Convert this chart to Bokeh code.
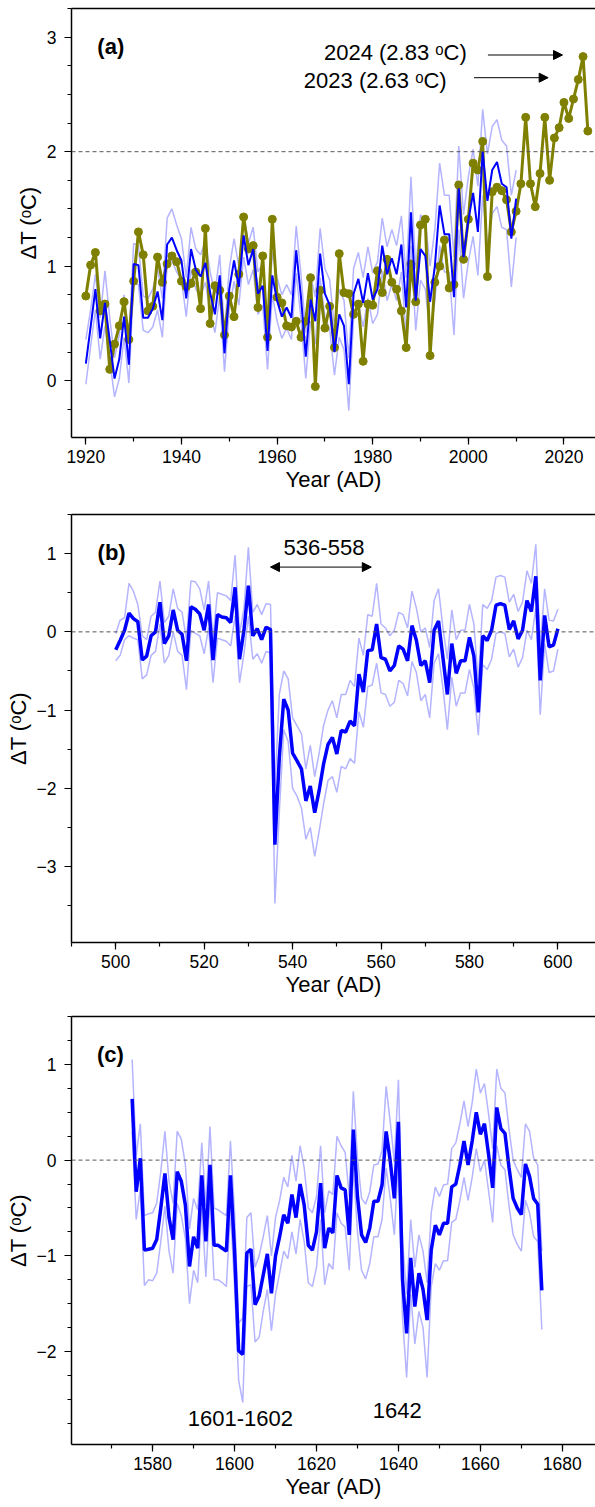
from bokeh.plotting import figure
from bokeh.layouts import column
from bokeh.models import (Label, Arrow, NormalHead, Span, SingleIntervalTicker,
                          LinearAxis, FixedTicker, Range1d)
from bokeh.embed import file_html
from bokeh.resources import INLINE

FONT = "Liberation Sans"

# ---------------- Panel (a) data ----------------
years_a_blue = list(range(1920, 2011))
recon_a = [0.15, 0.47, 0.80, 0.37, 0.68, 0.35, 0.02, 0.19, 0.56, 0.14,
           1.02, 1.01, 0.55, 0.55, 0.63, 0.78, 0.53, 1.19, 1.25, 1.14,
           1.05, 0.72, 1.15, 0.97, 0.91, 1.03, 0.77, 0.58, 0.92, 0.24,
           0.80, 1.05, 0.82, 1.27, 1.01, 1.15, 0.76, 0.83, 0.26, 0.92,
           0.70, 0.56, 0.64, 0.55, 1.14, 0.73, 0.21, 0.71, 0.52, 1.11,
           0.76, 0.66, 0.25, 0.58, 0.48, -0.03, 0.76, 0.89, 0.68, 0.94,
           0.71, 0.80, 1.18, 0.93, 1.07, 0.93, 1.19, 0.64, 1.47, 0.70,
           1.15, 1.09, 0.69, 1.00, 1.53, 1.28, 1.28, 0.73, 1.68, 1.08,
           1.40, 1.64, 1.30, 2.00, 1.57, 1.84, 1.91, 1.72, 1.69, 1.24,
           1.59]
recon_a_upper = [0.36, 0.62, 0.93, 0.55, 0.96, 0.55, 0.20, 0.40, 0.75, 0.35,
                 1.20, 1.18, 0.74, 0.72, 0.80, 0.98, 0.72, 1.42, 1.50, 1.36,
                 1.24, 0.90, 1.34, 1.15, 1.10, 1.22, 0.95, 0.76, 1.10, 0.42,
                 0.98, 1.24, 1.00, 1.46, 1.20, 1.34, 0.95, 1.02, 0.46, 1.12,
                 0.90, 0.75, 0.84, 0.75, 1.35, 0.93, 0.42, 0.92, 0.73, 1.33,
                 0.98, 0.88, 0.47, 0.80, 0.70, 0.20, 0.98, 1.12, 0.90, 1.17,
                 0.94, 1.04, 1.42, 1.17, 1.32, 1.18, 1.44, 0.90, 1.78, 0.98,
                 1.45, 1.40, 1.00, 1.32, 1.90, 1.62, 1.62, 1.08, 2.05, 1.45,
                 1.78, 2.02, 1.70, 2.37, 1.98, 2.22, 2.28, 2.10, 2.05, 1.62,
                 1.84]
recon_a_lower = [-0.03, 0.30, 0.62, 0.19, 0.48, 0.18, -0.14, 0.02, 0.38, -0.02,
                 0.85, 0.84, 0.44, 0.42, 0.47, 0.62, 0.38, 1.00, 1.05, 0.95,
                 0.88, 0.56, 0.97, 0.80, 0.74, 0.86, 0.60, 0.42, 0.74, 0.08,
                 0.62, 0.87, 0.66, 1.08, 0.84, 0.97, 0.58, 0.66, 0.10, 0.75,
                 0.52, 0.37, 0.46, 0.36, 0.94, 0.54, 0.02, 0.52, 0.32, 0.90,
                 0.56, 0.45, 0.05, 0.38, 0.27, -0.26, 0.55, 0.68, 0.47, 0.72,
                 0.50, 0.58, 0.96, 0.70, 0.84, 0.70, 0.95, 0.40, 1.18, 0.44,
                 0.88, 0.80, 0.40, 0.70, 1.18, 0.95, 0.95, 0.40, 1.32, 0.72,
                 1.04, 1.26, 0.92, 1.62, 1.18, 1.46, 1.52, 1.34, 1.32, 0.82,
                 1.25]
years_a_obs = list(range(1920, 2026))
observed_a = [0.74, 1.01, 1.12, 0.61, 0.67, 0.10, 0.32, 0.48, 0.69, 0.36,
              0.87, 1.30, 1.10, 0.61, 0.65, 1.08, 0.86, 1.02, 1.09, 1.04,
              0.87, 0.82, 0.85, 0.95, 0.63, 1.33, 0.50, 0.83, 0.79, 0.40,
              0.74, 0.56, 0.93, 1.43, 1.15, 1.18, 0.64, 1.09, 0.38, 1.41,
              0.73, 0.68, 0.48, 0.47, 0.52, 0.38, 0.52, 0.90, -0.05, 0.79,
              0.46, 0.65, 0.29, 1.11, 0.77, 0.76, 0.58, 0.67, 0.17, 0.67,
              0.66, 0.96, 0.77, 1.06, 0.86, 0.80, 0.61, 0.29, 1.02, 0.69,
              1.36, 1.41, 0.22, 0.86, 1.00, 1.23, 0.81, 0.84, 1.71, 1.06,
              1.41, 1.90, 1.84, 2.09, 0.91, 1.65, 1.69, 1.66, 1.58, 1.30,
              1.48, 1.72, 2.30, 1.72, 1.52, 1.81, 2.30, 1.75, 2.12, 2.21,
              2.43, 2.29, 2.46, 2.63, 2.83, 2.18]

# ---------------- Panel (b) data ----------------
years_b = list(range(500, 601))
recon_b = [-0.23, -0.11, 0.02, 0.24, 0.17, 0.13, -0.36, -0.31, -0.05, 0.00,
           0.38, -0.15, -0.05, 0.28, 0.02, -0.03, -0.37, 0.32, 0.29, 0.23,
           0.02, 0.35, -0.36, 0.22, 0.19, 0.18, 0.12, 0.57, -0.35, 0.02,
           0.59, -0.05, 0.04, -0.10, 0.06, 0.03, -2.72, -1.60, -0.86, -1.00,
           -1.55, -1.65, -1.75, -2.16, -1.97, -2.31, -2.03, -1.69, -1.44, -1.35,
           -1.56, -1.26, -1.28, -1.14, -1.20, -0.54, -0.77, -0.24, -0.23, 0.10,
           -0.33, -0.35, -0.50, -0.43, -0.18, -0.22, -0.37, 0.08, -0.11, -0.43,
           -0.37, -0.65, 0.02, 0.14, -0.33, -0.80, -0.15, -0.53, -0.37, -0.37,
           -0.07, -0.31, -1.03, -0.05, -0.11, 0.02, 0.34, 0.36, 0.34, 0.03,
           0.14, -0.09, 0.02, 0.40, 0.26, 0.71, -0.62, 0.21, -0.19, -0.17,
           0.04]
recon_b_upper = [-0.02, 0.15, 0.18, 0.62, 0.52, 0.35, -0.05, -0.10, 0.20, 0.25,
                 0.65, 0.12, 0.20, 0.55, 0.30, 0.25, -0.10, 0.65, 0.64, 0.55,
                 0.28, 0.65, -0.08, 0.50, 0.48, 0.46, 0.40, 0.98, -0.02, 0.30,
                 1.08, 0.25, 0.35, 0.22, 0.36, 0.35, -2.00, -0.80, -0.50, -0.60,
                 -1.10, -1.20, -1.30, -1.75, -1.45, -1.85, -1.55, -1.20, -1.00, -0.88,
                 -1.10, -0.80, -0.80, -0.62, -0.70, -0.08, -0.30, 0.22, 0.20, 0.62,
                 0.10, 0.05, -0.05, 0.02, 0.25, 0.22, 0.05, 0.52, 0.30, 0.00,
                 0.05, -0.20, 0.40, 0.55, 0.05, -0.35, 0.28, -0.10, 0.02, 0.02,
                 0.35, 0.10, -0.65, 0.35, 0.30, 0.40, 0.70, 0.72, 0.70, 0.38,
                 0.48, 0.26, 0.38, 0.78, 0.62, 1.12, -0.20, 0.55, 0.15, 0.14,
                 0.29]
recon_b_lower = [-0.37, -0.30, -0.10, -0.05, -0.08, -0.10, -0.60, -0.55, -0.30, -0.25,
                 0.10, -0.40, -0.30, 0.00, -0.25, -0.30, -0.74, 0.02, -0.02, -0.05,
                 -0.28, 0.05, -0.65, -0.08, -0.10, -0.12, -0.18, 0.20, -0.65, -0.28,
                 0.20, -0.35, -0.28, -0.40, -0.25, -0.27, -3.47, -2.30, -1.25, -1.40,
                 -2.00, -2.10, -2.25, -2.65, -2.50, -2.87, -2.55, -2.20, -1.90, -1.85,
                 -2.05, -1.72, -1.75, -1.62, -1.68, -1.02, -1.22, -0.70, -0.68, -0.40,
                 -0.78, -0.80, -0.95, -0.90, -0.62, -0.66, -0.82, -0.38, -0.52, -0.88,
                 -0.80, -1.10, -0.40, -0.28, -0.72, -1.25, -0.58, -0.95, -0.78, -0.78,
                 -0.48, -0.72, -1.32, -0.42, -0.48, -0.35, -0.02, 0.00, -0.02, -0.32,
                 -0.22, -0.45, -0.33, 0.02, -0.10, 0.30, -1.06, -0.15, -0.52, -0.50,
                 -0.22]

# ---------------- Panel (c) data ----------------
years_c = list(range(1575, 1676))
recon_c = [0.64, -0.33, 0.02, -0.94, -0.93, -0.92, -0.83, -0.50, -0.14, -0.60,
           -0.83, -0.12, -0.22, -0.47, -1.11, -0.80, -0.92, -0.16, -0.85, -0.05,
           -0.89, -0.89, -0.92, -0.95, -0.16, -0.95, -1.99, -2.03, -0.97, -0.93,
           -1.51, -1.42, -1.20, -0.98, -1.39, -1.00, -0.80, -0.57, -0.66, -0.36,
           -0.60, -0.25, -0.47, -0.89, -0.94, -0.75, -0.24, -0.92, -0.71, -0.76,
           -0.16, -0.29, -0.31, -0.78, 0.32, -0.38, -0.78, -0.86, -0.71, -0.43,
           -0.43, -0.26, 0.30, -0.01, -0.40, 0.40, -1.25, -1.81, -1.02, -1.53,
           -1.18, -1.35, -1.67, -0.94, -0.68, -0.78, -0.66, -0.66, -0.28, -0.25,
           -0.05, 0.20, -0.05, 0.20, 0.50, 0.27, 0.38, 0.06, -0.29, 0.55,
           0.33, 0.28, -0.08, -0.40, -0.50, -0.57, -0.04, -0.17, -0.40, -0.46,
           -1.36]
recon_c_upper = [1.05, 0.05, 0.38, -0.58, -0.56, -0.55, -0.45, -0.12, 0.30, -0.22,
                 -0.45, 0.30, 0.22, -0.05, -0.72, -0.40, -0.52, 0.18, -0.48, 0.35,
                 -0.50, -0.52, -0.55, -0.58, 0.20, -0.55, -1.70, -1.65, -0.60, -0.55,
                 -1.12, -1.00, -0.80, -0.58, -1.00, -0.60, -0.42, -0.18, -0.28, 0.05,
                 -0.22, 0.15, -0.08, -0.50, -0.55, -0.38, 0.15, -0.55, -0.32, -0.36,
                 0.25, 0.15, 0.08, -0.38, 0.72, 0.02, -0.40, -0.46, -0.33, -0.05,
                 -0.04, 0.10, 0.77, 0.40, -0.02, 0.84, -0.85, -1.40, -0.62, -1.12,
                 -0.78, -0.95, -1.28, -0.55, -0.28, -0.38, -0.26, -0.25, 0.12, 0.18,
                 0.38, 0.62, 0.35, 0.60, 0.95, 0.70, 0.80, 0.48, 0.12, 0.95,
                 0.75, 0.70, 0.32, 0.00, -0.10, -0.18, 0.38, 0.30, 0.02, -0.05,
                 -0.95]
recon_c_lower = [0.30, -0.62, -0.30, -1.31, -1.25, -1.26, -1.18, -0.85, -0.48, -0.95,
                 -1.18, -0.45, -0.58, -0.82, -1.50, -1.15, -1.28, -0.50, -1.22, -0.40,
                 -1.25, -1.25, -1.28, -1.32, -0.52, -1.32, -2.30, -2.53, -1.32, -1.30,
                 -1.90, -1.85, -1.58, -1.35, -1.78, -1.40, -1.18, -0.95, -1.03, -0.75,
                 -0.98, -0.62, -0.85, -1.28, -1.32, -1.12, -0.62, -1.30, -1.08, -1.14,
                 -0.55, -0.66, -0.70, -1.15, -0.08, -0.75, -1.15, -1.24, -1.08, -0.80,
                 -0.80, -0.62, -0.08, -0.40, -0.78, 0.00, -1.65, -2.27, -1.40, -1.92,
                 -1.58, -1.75, -2.27, -1.32, -1.08, -1.15, -1.05, -1.05, -0.65, -0.62,
                 -0.42, -0.18, -0.42, -0.18, 0.12, -0.12, 0.00, -0.32, -0.65, 0.15,
                 -0.05, -0.10, -0.48, -0.78, -0.88, -0.95, -0.42, -0.55, -0.80, -0.85,
                 -1.77]

BLUE = "#0000ff"
LIGHT = "#b4b4ff"
OLIVE = "#808000"
MINUS = {-1: "\u22121", -2: "\u22122", -3: "\u22123", -4: "\u22124"}


def make_fig(height, xr, yr, btop, bbot, yminor):
    p = figure(width=595, height=height, x_range=Range1d(*xr), y_range=Range1d(*yr),
               output_backend="svg", toolbar_location=None,
               min_border_left=71, min_border_right=0,
               min_border_top=btop, min_border_bottom=bbot)
    p.outline_line_color = None
    p.grid.visible = False
    p.background_fill_color = "white"
    p.xaxis.ticker = SingleIntervalTicker(interval=20, num_minor_ticks=2)
    p.yaxis.ticker = SingleIntervalTicker(interval=1, num_minor_ticks=yminor)
    for ax in (p.xaxis[0], p.yaxis[0]):
        ax.axis_line_width = 1.5
        ax.axis_line_color = "black"
        ax.major_tick_line_color = "black"
        ax.minor_tick_line_color = "black"
        ax.major_tick_line_width = 1.2
        ax.minor_tick_line_width = 1.2
        ax.major_tick_out = 7
        ax.major_tick_in = 0
        ax.minor_tick_out = 4
        ax.minor_tick_in = 0
        ax.major_label_text_font = FONT
        ax.major_label_text_font_size = "17.5px"
        ax.major_label_text_color = "black"
        ax.axis_label_text_font = FONT
        ax.axis_label_text_font_size = "22px"
        ax.axis_label_text_font_style = "normal"
        ax.axis_label_text_color = "black"
    p.xaxis.major_label_standoff = 5
    p.xaxis.axis_label_standoff = 1
    p.yaxis.major_label_standoff = 8
    p.yaxis.axis_label_standoff = 3
    p.yaxis.major_label_overrides = MINUS
    p.xaxis.axis_label = "Year (AD)"
    p.yaxis.axis_label = "\u0394T (\u1d52C)"
    top = LinearAxis(ticker=FixedTicker(ticks=[]), axis_line_width=1.5,
                     axis_line_color="black", major_tick_out=0, major_tick_in=0,
                     minor_tick_out=0, minor_tick_in=0,
                     major_label_text_font_size="0px", major_label_standoff=0)
    p.add_layout(top, "above")
    return p


def tlabel(p, x, y, text, size="22px", bold=False, align="left"):
    p.add_layout(Label(x=x, y=y, text=text, text_font=FONT, text_font_size=size,
                       text_font_style="bold" if bold else "normal",
                       text_baseline="middle", text_align=align,
                       text_color="black"))


# ---------------- Panel (a) ----------------
pa = make_fig(508, (1917.0, 2026.6), (-0.495, 3.25), 8, 71, 4)
pa.add_layout(Span(location=2, dimension="width", line_color="#555555",
                   line_width=1, line_dash="4 3"))
pa.line(years_a_blue, recon_a_upper, color=LIGHT, line_width=1.5)
pa.line(years_a_blue, recon_a_lower, color=LIGHT, line_width=1.5)
pa.line(years_a_obs, observed_a, color=OLIVE, line_width=3)
pa.scatter(years_a_obs, observed_a, size=8, color=OLIVE)
pa.line(years_a_blue, recon_a, color=BLUE, line_width=2)
tlabel(pa, 1922.4, 2.92, "(a)", bold=True)
tlabel(pa, 1969.8, 2.87, "2024 (2.83 \u1d52C)")
tlabel(pa, 1965.6, 2.62, "2023 (2.63 \u1d52C)")
pa.add_layout(Arrow(end=NormalHead(size=9, fill_color="black", line_color="black"),
                    x_start=2004.1, y_start=2.844, x_end=2019.7, y_end=2.844,
                    line_width=1, line_color="black"))
pa.add_layout(Arrow(end=NormalHead(size=9, fill_color="black", line_color="black"),
                    x_start=2001.2, y_start=2.646, x_end=2016.7, y_end=2.646,
                    line_width=1, line_color="black"))

# ---------------- Panel (b) ----------------
pb = make_fig(500, (490.0, 608.5), (-3.97, 1.5), 6, 66, 2)
pb.add_layout(Span(location=0, dimension="width", line_color="#555555",
                   line_width=1, line_dash="4 3"))
pb.line(years_b, recon_b_upper, color=LIGHT, line_width=1.5)
pb.line(years_b, recon_b_lower, color=LIGHT, line_width=1.5)
pb.line(years_b, recon_b, color=BLUE, line_width=3.5)
tlabel(pb, 495.9, 1.02, "(b)", bold=True)
tlabel(pb, 547.1, 1.077, "536-558", align="center")
pb.add_layout(Arrow(start=NormalHead(size=9, fill_color="black", line_color="black"),
                    end=NormalHead(size=9, fill_color="black", line_color="black"),
                    x_start=535.0, y_start=0.828, x_end=557.8, y_end=0.828,
                    line_width=1, line_color="black"))

# ---------------- Panel (c) ----------------
pc = make_fig(499, (1560.2, 1688.1), (-2.97, 1.5), 8, 63, 4)
pc.add_layout(Span(location=0, dimension="width", line_color="#555555",
                   line_width=1, line_dash="4 3"))
pc.line(years_c, recon_c_upper, color=LIGHT, line_width=1.5)
pc.line(years_c, recon_c_lower, color=LIGHT, line_width=1.5)
pc.line(years_c, recon_c, color=BLUE, line_width=3.5)
tlabel(pc, 1566.4, 1.108, "(c)", bold=True)
tlabel(pc, 1601.4, -2.70, "1601-1602", align="center")
tlabel(pc, 1639.7, -2.61, "1642", align="center")

layout = column(pa, pb, pc)
open("out.html", "w").write(file_html(layout, INLINE))
